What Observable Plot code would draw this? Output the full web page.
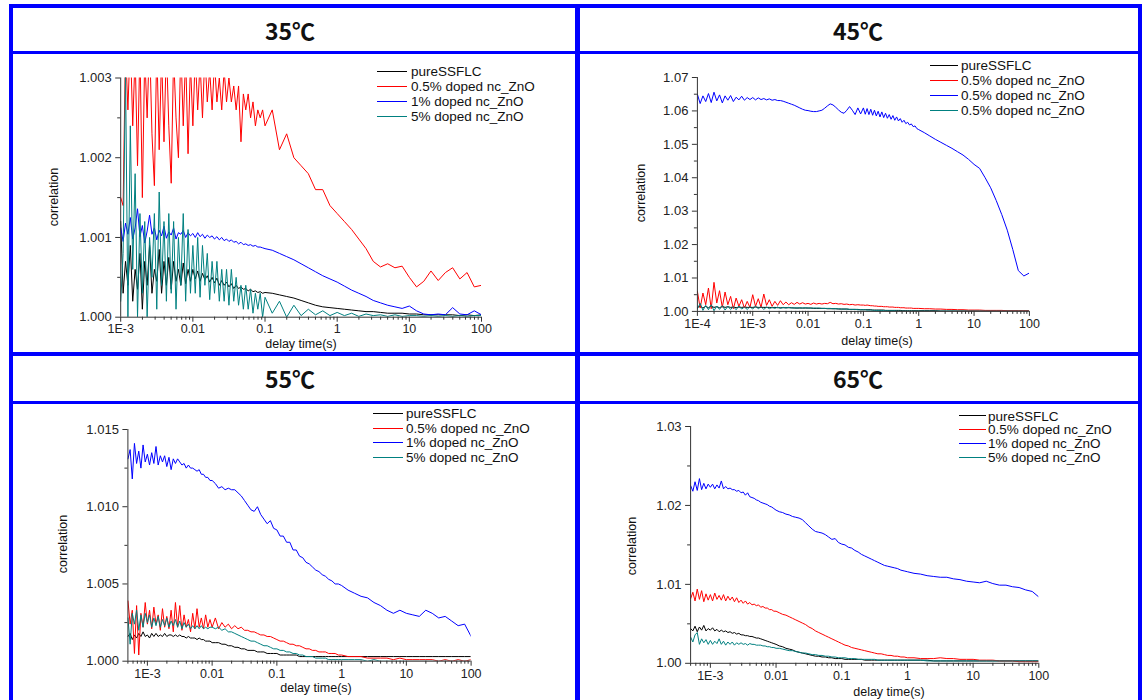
<!DOCTYPE html>
<html><head><meta charset="utf-8">
<script src="https://cdn.jsdelivr.net/npm/d3@7"></script>
<script src="https://cdn.jsdelivr.net/npm/@observablehq/plot@0.6"></script>
<style>
body{margin:0;background:#fff;}
#fig{position:relative;width:1142px;height:700px;overflow:hidden;background:#fff;font-family:"Liberation Sans",Arial,sans-serif;}
.bl{position:absolute;background:#0000ff;}
.title{position:absolute;font:bold 23px "Noto Sans CJK SC","DejaVu Sans",sans-serif;color:#111;transform:translate(-50%,-50%);white-space:nowrap;}
.plot{position:absolute;}
.legend{position:absolute;font-size:13.5px;color:#111;}
.legend .row{display:flex;align-items:center;white-space:nowrap;}
.legend .sw{display:inline-block;height:0;border-top:1.2px solid;}
.xl,.yl{position:absolute;font-size:12.5px;color:#111;white-space:nowrap;line-height:13px;}
.xl{transform:translate(-50%,-50%);}
.yl{transform:translate(-50%,-50%) rotate(-90deg);}
</style></head><body><div id="fig"></div>
<script>
// ---------------- DATA ----------------
const seriesNames = ["pureSSFLC", "0.5% doped nc_ZnO", "1% doped nc_ZnO", "5% doped nc_ZnO"];
const titles = ["35\u2103", "45\u2103", "55\u2103", "65\u2103"];
const legend35 = ["pureSSFLC", "0.5% doped nc_ZnO", "1% doped nc_ZnO", "5% doped nc_ZnO"];
const legend45 = ["pureSSFLC", "0.5% doped nc_ZnO", "0.5% doped nc_ZnO", "0.5% doped nc_ZnO"];
const legend55 = ["pureSSFLC", "0.5% doped nc_ZnO", "1% doped nc_ZnO", "5% doped nc_ZnO"];
const legend65 = ["pureSSFLC", "0.5% doped nc_ZnO", "1% doped nc_ZnO", "5% doped nc_ZnO"];
const xAxisTitle = "delay time(s)";
const yAxisTitle = "correlation";

const xTicksA = [1e-3, 1e-2, 1e-1, 1, 10, 100];
const xLabelsA = ["1E-3", "0.01", "0.1", "1", "10", "100"];
const xTicks45 = [1e-4, 1e-3, 1e-2, 1e-1, 1, 10, 100];
const xLabels45 = ["1E-4", "1E-3", "0.01", "0.1", "1", "10", "100"];

const yTicks35 = [1.000, 1.001, 1.002, 1.003];
const yLabels35 = ["1.000", "1.001", "1.002", "1.003"];
const yMinor35 = [1.0005, 1.0015, 1.0025];
const yTicks45 = [1.00, 1.01, 1.02, 1.03, 1.04, 1.05, 1.06, 1.07];
const yLabels45 = ["1.00", "1.01", "1.02", "1.03", "1.04", "1.05", "1.06", "1.07"];
const yMinor45 = [1.005, 1.015, 1.025, 1.035, 1.045, 1.055, 1.065];
const yTicks55 = [1.000, 1.005, 1.010, 1.015];
const yLabels55 = ["1.000", "1.005", "1.010", "1.015"];
const yMinor55 = [1.0025, 1.0075, 1.0125];
const yTicks65 = [1.00, 1.01, 1.02, 1.03];
const yLabels65 = ["1.00", "1.01", "1.02", "1.03"];
const yMinor65 = [1.005, 1.015, 1.025];

// delay times (s)
const t35 = [
1.000e-3,1.080e-3,1.166e-3,1.259e-3,1.359e-3,1.468e-3,1.585e-3,1.711e-3,1.848e-3,1.995e-3,
2.154e-3,2.326e-3,2.512e-3,2.712e-3,2.929e-3,3.162e-3,3.415e-3,3.687e-3,3.981e-3,4.299e-3,
4.642e-3,5.012e-3,5.412e-3,5.843e-3,6.310e-3,6.813e-3,7.356e-3,7.943e-3,8.577e-3,9.261e-3,
1.000e-2,1.080e-2,1.166e-2,1.259e-2,1.359e-2,1.468e-2,1.585e-2,1.711e-2,1.848e-2,1.995e-2,
2.154e-2,2.326e-2,2.512e-2,2.712e-2,2.929e-2,3.162e-2,3.415e-2,3.687e-2,3.981e-2,4.299e-2,
4.642e-2,5.012e-2,5.412e-2,5.843e-2,6.310e-2,6.813e-2,7.356e-2,7.943e-2,8.577e-2,9.261e-2,
0.1000,0.1259,0.1585,0.1995,0.2512,0.3162,0.3981,0.5012,0.6310,0.7943,
1.000,1.259,1.585,1.995,2.512,3.162,3.981,5.012,6.310,7.943,
10.00,12.59,15.85,19.95,25.12,31.62,39.81,50.12,63.10,79.43,
100];
const pure35 = [
1.0012,1.0003,1.0007,1.0004,1.0009,1.0002,1.0006,1.00035,1.0008,1.0001,
1.0007,1.0004,1.0009,1.0003,1.0006,1.00045,1.00085,1.0003,1.0007,1.0004,
1.00075,1.00035,1.0007,1.00045,1.0006,1.0004,1.00068,1.00042,1.0006,1.00045,
1.0006,1.00048,1.00058,1.00045,1.00055,1.00047,1.00052,1.00044,1.0005,1.00043,
1.00049,1.0004,1.00046,1.0004,1.00044,1.00038,1.00042,1.00036,1.0004,1.00036,
1.00038,1.00035,1.00036,1.00033,1.00035,1.00032,1.00033,1.00031,1.00032,1.0003,
1.00031,1.0003,1.00028,1.00026,1.00024,1.00021,1.00018,1.00015,1.00013,1.00012,
1.00011,1.0001,1.00009,1.00008,1.00007,1.00007,1.00006,1.00005,1.00005,1.00005,
1.00004,1.00004,1.00003,1.00003,1.00003,1.00003,1.00003,1.00002,1.00003,1.00002,
1.00003];
const half35 = [
1.0015,1.0014,1.0034,1.0026,1.0035,1.0024,1.0033,1.0019,1.0034,1.0015,
1.0033,1.0025,1.0035,1.0023,1.00165,1.0034,1.0021,1.0033,1.0022,1.0034,
1.0024,1.00168,1.0033,1.0025,1.0020,1.0034,1.0024,1.0033,1.00205,1.0032,
1.0024,1.0033,1.0026,1.0032,1.0025,1.0033,1.0027,1.0031,1.0026,1.0032,
1.0027,1.0030,1.0026,1.0031,1.0027,1.0030,1.0027,1.0029,1.0026,1.0029,
1.0022,1.0028,1.0026,1.0028,1.0025,1.0027,1.0024,1.0026,1.0025,1.0026,
1.0024,1.0026,1.0021,1.0023,1.0020,1.0019,1.0018,1.0016,1.0016,1.0014,
1.0013,1.0012,1.0011,1.00098,1.00086,1.0007,1.00063,1.00067,1.00062,1.00064,
1.0005,1.00038,1.00045,1.00058,1.00046,1.00056,1.00062,1.00048,1.00056,1.00038,
1.0004];
const one35 = [
1.00112,1.00095,1.00118,1.00104,1.00125,1.00098,1.00112,1.00136,1.00101,1.00115,
1.00093,1.00108,1.00128,1.00104,1.00112,1.00097,1.00109,1.00102,1.00114,1.00099,
1.00107,1.00103,1.00112,1.00098,1.00106,1.00104,1.00109,1.00100,1.00106,1.00102,
1.00105,1.00100,1.00106,1.00101,1.00104,1.00099,1.00103,1.00100,1.00102,1.00098,
1.00101,1.00097,1.00100,1.00096,1.00098,1.00095,1.00097,1.00094,1.00095,1.00092,
1.00094,1.00091,1.00092,1.00090,1.00091,1.00089,1.00090,1.00088,1.00088,1.00087,
1.00086,1.00084,1.00080,1.00076,1.00072,1.00067,1.00062,1.00057,1.00052,1.00048,
1.00044,1.00039,1.00034,1.00030,1.00026,1.00021,1.00018,1.00015,1.00013,1.00011,
1.00014,1.00008,1.00004,1.00003,1.00004,1.00003,1.00012,1.00004,1.00003,1.00008,
1.00003];
const five35 = [
1.0002,1.0008,1.0031,1.0000,1.0024,1.0006,1.0018,1.0000,1.0013,1.0003,
1.0012,1.0000,1.0010,1.0005,1.0013,1.0001,1.00157,1.0004,1.0012,1.0002,
1.0013,1.0003,1.0012,1.0001,1.0010,1.0004,1.0013,1.0002,1.0011,1.0003,
1.0009,1.0003,1.0010,1.00025,1.0009,1.0004,1.0008,1.00022,1.0007,1.0003,
1.0007,1.0002,1.0006,1.0002,1.0006,1.00015,1.0006,1.0002,1.0005,1.00015,
1.0004,1.0001,1.0004,1.0001,1.00035,1.00005,1.0003,1.0001,1.0003,1.0000,
1.00025,1.00005,1.0002,1.0000,1.00015,1.00002,1.0001,1.00003,1.00008,1.00002,
1.00006,1.00002,1.00005,1.00001,1.00004,1.00002,1.00003,1.00001,1.00003,1.00001,
1.00002,1.00002,1.00001,1.00002,1.00001,1.00002,1.00001,1.00002,1.00001,1.00002,
1.00002];

const t45 = [
1.000e-4,1.122e-4,1.259e-4,1.413e-4,1.585e-4,1.778e-4,1.995e-4,2.239e-4,2.512e-4,2.818e-4,
3.162e-4,3.548e-4,3.981e-4,4.467e-4,5.012e-4,5.623e-4,6.310e-4,7.079e-4,7.943e-4,8.913e-4,
1.000e-3,1.122e-3,1.259e-3,1.413e-3,1.585e-3,1.778e-3,1.995e-3,2.239e-3,2.512e-3,2.818e-3,
3.162e-3,3.548e-3,3.981e-3,4.467e-3,5.012e-3,5.623e-3,6.310e-3,7.079e-3,7.943e-3,8.913e-3,
1.000e-2,1.122e-2,1.259e-2,1.413e-2,1.585e-2,1.778e-2,1.995e-2,2.239e-2,2.512e-2,2.818e-2,
3.162e-2,3.548e-2,3.981e-2,4.467e-2,5.012e-2,5.623e-2,6.310e-2,7.079e-2,7.943e-2,8.913e-2,
0.1000,0.1080,0.1166,0.1259,0.1359,0.1468,0.1585,0.1711,0.1848,0.1995,
0.2154,0.2326,0.2512,0.2712,0.2929,0.3162,0.3415,0.3687,0.3981,0.4299,
0.4642,0.5012,0.5412,0.5843,0.6310,0.6813,0.7356,0.7943,0.8577,0.9261,
1.000,1.259,1.585,1.995,2.512,3.162,3.981,5.012,6.310,7.943,
10.00,12.59,15.85,19.95,25.12,31.62,39.81,50.12,63.10,79.43,
100];
const pure45 = [
1.0012,1.0016,1.0010,1.0015,1.0011,1.0016,1.0012,1.0014,1.0011,1.0015,
1.0012,1.0014,1.0012,1.0013,1.0011,1.0013,1.0012,1.0013,1.0012,1.0012,
1.0012,1.0013,1.0012,1.0012,1.0012,1.0012,1.0012,1.0011,1.0012,1.0011,
1.0011,1.0011,1.0011,1.0011,1.0011,1.0010,1.0010,1.0010,1.0010,1.0010,
1.0010,1.0010,1.0009,1.0009,1.0009,1.0009,1.0009,1.0008,1.0008,1.0008,
1.0008,1.0007,1.0007,1.0007,1.0007,1.0006,1.0006,1.0006,1.0006,1.0005,
1.0005,1.0005,1.0005,1.0005,1.0005,1.0004,1.0004,1.0004,1.0004,1.0004,
1.0004,1.0004,1.0003,1.0003,1.0003,1.0003,1.0003,1.0003,1.0003,1.0003,
1.0003,1.0002,1.0002,1.0002,1.0002,1.0002,1.0002,1.0002,1.0002,1.0002,
1.0002,1.0002,1.0002,1.0002,1.0001,1.0001,1.0001,1.0001,1.0001,1.0001,
1.0001,1.0001,1.0001,1.0001,1.0001,1.0001,1.0001,1.0001,1.0001,1.0001,
1.0001];
const half45 = [
1.0060,1.0010,1.0055,1.0020,1.0070,1.0008,1.0087,1.0025,1.0062,1.0012,
1.0058,1.0020,1.0045,1.0008,1.0040,1.0015,1.0035,1.0010,1.0030,1.0012,
1.0050,1.0015,1.0038,1.0012,1.0052,1.0018,1.0035,1.0015,1.0030,1.0018,
1.0032,1.0020,1.0028,1.0020,1.0026,1.0021,1.0027,1.0022,1.0026,1.0022,
1.0024,1.0021,1.0025,1.0022,1.0024,1.0022,1.0024,1.0023,1.0027,1.0023,
1.0024,1.0022,1.0023,1.0021,1.0022,1.0020,1.0021,1.0019,1.0020,1.0019,
1.0019,1.0018,1.0019,1.0018,1.0017,1.0017,1.0016,1.0016,1.0015,1.0015,
1.0015,1.0014,1.0014,1.0014,1.0013,1.0013,1.0013,1.0012,1.0012,1.0012,
1.0011,1.0011,1.0011,1.0010,1.0010,1.0010,1.0010,1.0009,1.0009,1.0009,
1.0009,1.0008,1.0008,1.0007,1.0007,1.0006,1.0006,1.0005,1.0005,1.0004,
1.0004,1.0004,1.0003,1.0003,1.0003,1.0003,1.0002,1.0002,1.0002,1.0002,
1.0002];
const one45 = [
1.0650,1.0622,1.0645,1.0628,1.0652,1.0625,1.0656,1.0630,1.0648,1.0624,
1.0645,1.0632,1.0646,1.0628,1.0641,1.0633,1.0644,1.0632,1.0640,1.0634,
1.0640,1.0633,1.0639,1.0634,1.0637,1.0633,1.0636,1.0632,1.0634,1.0631,
1.0631,1.0629,1.0626,1.0623,1.0620,1.0617,1.0613,1.0609,1.0605,1.0602,
1.0601,1.0599,1.0598,1.0598,1.0600,1.0602,1.0608,1.0615,1.0621,1.0618,
1.0611,1.0603,1.0596,1.0593,1.0602,1.0613,1.0602,1.0589,1.0609,1.0591,
1.0609,1.0590,1.0607,1.0589,1.0605,1.0587,1.0602,1.0585,1.0599,1.0582,
1.0597,1.0580,1.0593,1.0578,1.0589,1.0575,1.0586,1.0572,1.0582,1.0570,
1.0577,1.0566,1.0572,1.0562,1.0566,1.0558,1.0561,1.0553,1.0555,1.0547,
1.0544,1.0535,1.0525,1.0515,1.0506,1.0497,1.0488,1.0478,1.0468,1.0455,
1.0440,1.0428,1.0400,1.0370,1.0332,1.0290,1.0243,1.0185,1.0122,1.0106,
1.0115];
const five45 = [
1.0008,1.0024,1.0003,1.0018,1.0005,1.0020,1.0002,1.0016,1.0006,1.0017,
1.0004,1.0015,1.0006,1.0014,1.0005,1.0016,1.0007,1.0013,1.0006,1.0014,
1.0007,1.0016,1.0008,1.0014,1.0006,1.0013,1.0008,1.0012,1.0009,1.0013,
1.0009,1.0012,1.0010,1.0012,1.0010,1.0011,1.0010,1.0011,1.0010,1.0011,
1.0010,1.0010,1.0010,1.0010,1.0010,1.0009,1.0009,1.0009,1.0009,1.0008,
1.0008,1.0008,1.0007,1.0007,1.0007,1.0006,1.0006,1.0006,1.0005,1.0005,
1.0005,1.0005,1.0004,1.0004,1.0004,1.0004,1.0003,1.0003,1.0003,1.0003,
1.0003,1.0002,1.0002,1.0002,1.0002,1.0002,1.0002,1.0002,1.0001,1.0001,
1.0001,1.0001,1.0001,1.0001,1.0001,1.0001,1.0001,1.0001,1.0001,1.0001,
1.0001,1.0001,1.0001,1.0001,1.0001,1.0001,1.0001,1.0001,1.0001,1.0001,
1.0001,1.0001,1.0001,1.0001,1.0001,1.0001,1.0001,1.0001,1.0001,1.0001,
1.0001];

// delay times shared by the 55 and 65 panels
const tHot = [
5.012e-4,5.412e-4,5.843e-4,6.310e-4,6.813e-4,7.356e-4,7.943e-4,8.577e-4,9.261e-4,
1.000e-3,1.080e-3,1.166e-3,1.259e-3,1.359e-3,1.468e-3,1.585e-3,1.711e-3,1.848e-3,1.995e-3,
2.154e-3,2.326e-3,2.512e-3,2.712e-3,2.929e-3,3.162e-3,3.415e-3,3.687e-3,3.981e-3,4.299e-3,
4.642e-3,5.012e-3,5.412e-3,5.843e-3,6.310e-3,6.813e-3,7.356e-3,7.943e-3,8.577e-3,9.261e-3,
1.000e-2,1.122e-2,1.259e-2,1.413e-2,1.585e-2,1.778e-2,1.995e-2,2.239e-2,2.512e-2,2.818e-2,
3.162e-2,3.548e-2,3.981e-2,4.467e-2,5.012e-2,5.623e-2,6.310e-2,7.079e-2,7.943e-2,8.913e-2,
0.1000,0.1122,0.1259,0.1413,0.1585,0.1778,0.1995,0.2239,0.2512,0.2818,
0.3162,0.3548,0.3981,0.4467,0.5012,0.5623,0.6310,0.7079,0.7943,0.8913,
1.000,1.259,1.585,1.995,2.512,3.162,3.981,5.012,6.310,7.943,
10.00,12.59,15.85,19.95,25.12,31.62,39.81,50.12,63.10,79.43,
100];
const pure55 = [
1.0016,1.0018,1.0014,1.0017,1.0015,1.0018,1.0016,1.0019,1.0016,
1.0017,1.0015,1.0018,1.0016,1.0018,1.0016,1.0017,1.0016,1.0018,1.0016,
1.0017,1.0017,1.0016,1.0017,1.0016,1.0017,1.0016,1.0016,1.0015,1.0016,
1.0015,1.0015,1.0015,1.0014,1.0015,1.0014,1.0014,1.0013,1.0013,1.0013,
1.0012,1.0012,1.0012,1.0011,1.0011,1.0010,1.0010,1.0009,1.0009,1.0008,
1.0008,1.0007,1.0007,1.0007,1.0006,1.0006,1.0006,1.0005,1.0005,1.0005,
1.0005,1.0004,1.0004,1.0004,1.0004,1.0004,1.0004,1.0003,1.0003,1.0003,
1.0003,1.0003,1.0003,1.0003,1.0003,1.0003,1.0003,1.0003,1.0003,1.0003,
1.0003,1.0003,1.0003,1.0003,1.0003,1.0003,1.0003,1.0003,1.0003,1.0003,
1.0003,1.0003,1.0003,1.0003,1.0003,1.0003,1.0003,1.0003,1.0003,1.0003,
1.0003];
const half55 = [
1.0039,1.0024,1.0033,1.0005,1.0036,1.0004,1.0031,1.0022,1.0038,
1.0024,1.0033,1.0021,1.0035,1.0024,1.0030,1.0020,1.0034,1.0022,1.0029,
1.0021,1.0033,1.0019,1.0038,1.0022,1.0036,1.0020,1.0030,1.0022,1.0027,
1.0019,1.0031,1.0021,1.0034,1.0022,1.0028,1.0021,1.0030,1.0022,1.0027,
1.0022,1.0028,1.0021,1.0025,1.0022,1.0024,1.0021,1.0023,1.0021,1.0022,
1.0020,1.0020,1.0019,1.0019,1.0018,1.0017,1.0017,1.0016,1.0016,1.0015,
1.0014,1.0013,1.0013,1.0012,1.0011,1.0011,1.0010,1.0010,1.0009,1.0008,
1.0008,1.0007,1.0007,1.0006,1.0006,1.0006,1.0005,1.0005,1.0005,1.0004,
1.0004,1.0003,1.0003,1.0003,1.0002,1.0002,1.0002,1.0002,1.0001,1.0002,
1.0001,1.0001,1.0001,1.0001,1.0001,1.0000,1.0001,1.0000,1.0001,1.0000,
1.0001];
const one55 = [
1.0131,1.0137,1.0118,1.0141,1.0128,1.0136,1.0125,1.0140,1.0129,
1.0134,1.0127,1.0135,1.0128,1.0139,1.0127,1.0133,1.0129,1.0133,1.0126,
1.0132,1.0124,1.0131,1.0128,1.0131,1.0129,1.0127,1.0128,1.0125,1.0127,
1.0125,1.0125,1.0124,1.0123,1.0124,1.0121,1.0121,1.0119,1.0119,1.0117,
1.0117,1.0115,1.0112,1.0113,1.0111,1.0112,1.0111,1.0111,1.0109,1.0107,
1.0104,1.0101,1.0098,1.0097,1.0100,1.0095,1.0092,1.0089,1.0091,1.0086,
1.0085,1.0081,1.0081,1.0077,1.0077,1.0072,1.0072,1.0068,1.0067,1.0064,
1.0063,1.0061,1.0059,1.0058,1.0056,1.0055,1.0053,1.0052,1.0050,1.0050,
1.0049,1.0046,1.0044,1.0042,1.0041,1.0038,1.0036,1.0033,1.0031,1.0033,
1.0031,1.0030,1.0029,1.0033,1.0031,1.0028,1.0029,1.0026,1.0023,1.0024,
1.0016];
const five55 = [
1.0028,1.0011,1.0031,1.0024,1.0033,1.0020,1.0030,1.0022,1.0031,
1.0025,1.0030,1.0022,1.0028,1.0023,1.0029,1.0022,1.0027,1.0023,1.0028,
1.0022,1.0026,1.0023,1.0027,1.0022,1.0026,1.0021,1.0025,1.0022,1.0024,
1.0021,1.0023,1.0021,1.0023,1.0021,1.0023,1.0021,1.0022,1.0021,1.0022,
1.0022,1.0021,1.0022,1.0020,1.0021,1.0019,1.0019,1.0018,1.0017,1.0016,
1.0015,1.0014,1.0013,1.0013,1.0012,1.0011,1.0010,1.0010,1.0009,1.0008,
1.0008,1.0007,1.0007,1.0006,1.0006,1.0005,1.0005,1.0004,1.0004,1.0003,
1.0003,1.0003,1.0002,1.0002,1.0002,1.0002,1.0001,1.0001,1.0001,1.0001,
1.0001,1.0001,1.0001,1.0001,1.0000,1.0001,1.0000,1.0000,1.0000,1.0000,
1.0000,1.0000,1.0000,1.0000,1.0000,1.0000,1.0000,1.0000,1.0000,1.0000,
1.0000];

const pure65 = [
1.0044,1.0041,1.0047,1.0040,1.0046,1.0042,1.0048,1.0041,1.0044,
1.0042,1.0045,1.0041,1.0043,1.0040,1.0042,1.0040,1.0041,1.0039,1.0040,
1.0038,1.0039,1.0037,1.0038,1.0036,1.0036,1.0035,1.0035,1.0034,1.0034,
1.0033,1.0032,1.0032,1.0031,1.0030,1.0029,1.0028,1.0027,1.0026,1.0025,
1.0024,1.0022,1.0021,1.0019,1.0018,1.0017,1.0015,1.0014,1.0013,1.0012,
1.0011,1.0010,1.0009,1.0009,1.0008,1.0008,1.0007,1.0007,1.0006,1.0006,
1.0006,1.0005,1.0005,1.0005,1.0005,1.0005,1.0005,1.0004,1.0004,1.0004,
1.0004,1.0004,1.0004,1.0004,1.0004,1.0004,1.0004,1.0004,1.0004,1.0004,
1.0004,1.0004,1.0004,1.0004,1.0003,1.0003,1.0003,1.0003,1.0003,1.0003,
1.0003,1.0003,1.0003,1.0003,1.0003,1.0003,1.0003,1.0003,1.0003,1.0003,
1.0003];
const half65 = [
1.0082,1.0090,1.0079,1.0094,1.0081,1.0092,1.0078,1.0088,1.0080,
1.0087,1.0079,1.0089,1.0081,1.0086,1.0080,1.0087,1.0079,1.0085,1.0080,
1.0084,1.0078,1.0083,1.0077,1.0080,1.0076,1.0079,1.0075,1.0077,1.0074,
1.0075,1.0073,1.0074,1.0071,1.0072,1.0070,1.0070,1.0068,1.0068,1.0066,
1.0066,1.0064,1.0062,1.0061,1.0059,1.0057,1.0055,1.0053,1.0051,1.0049,
1.0046,1.0044,1.0041,1.0039,1.0037,1.0035,1.0033,1.0031,1.0029,1.0027,
1.0025,1.0023,1.0022,1.0020,1.0019,1.0018,1.0017,1.0016,1.0015,1.0014,
1.0013,1.0012,1.0012,1.0011,1.0010,1.0010,1.0009,1.0009,1.0008,1.0008,
1.0007,1.0007,1.0006,1.0006,1.0006,1.0007,1.0006,1.0006,1.0005,1.0005,
1.0005,1.0004,1.0004,1.0004,1.0003,1.0003,1.0003,1.0002,1.0002,1.0002,
1.0002];
const one65 = [
1.0225,1.0218,1.0230,1.0219,1.0234,1.0220,1.0228,1.0221,1.0227,
1.0223,1.0227,1.0221,1.0226,1.0222,1.0231,1.0221,1.0224,1.0221,1.0222,
1.0220,1.0220,1.0218,1.0219,1.0216,1.0217,1.0213,1.0216,1.0211,1.0210,
1.0209,1.0207,1.0206,1.0204,1.0203,1.0202,1.0201,1.0199,1.0198,1.0196,
1.0194,1.0192,1.0191,1.0189,1.0188,1.0186,1.0185,1.0184,1.0182,1.0178,
1.0174,1.0170,1.0167,1.0166,1.0165,1.0163,1.0160,1.0157,1.0158,1.0153,
1.0151,1.0150,1.0147,1.0146,1.0143,1.0141,1.0138,1.0136,1.0134,1.0132,
1.0130,1.0128,1.0126,1.0124,1.0123,1.0122,1.0121,1.0120,1.0118,1.0117,
1.0116,1.0114,1.0113,1.0111,1.0110,1.0109,1.0109,1.0107,1.0106,1.0104,
1.0103,1.0102,1.0104,1.0101,1.0099,1.0099,1.0097,1.0096,1.0093,1.0091,
1.0084];
const five65 = [
1.0033,1.0027,1.0036,1.0039,1.0024,1.0031,1.0026,1.0030,1.0024,
1.0029,1.0024,1.0028,1.0025,1.0031,1.0024,1.0028,1.0023,1.0027,1.0024,
1.0027,1.0023,1.0026,1.0024,1.0026,1.0024,1.0025,1.0023,1.0025,1.0024,
1.0024,1.0023,1.0023,1.0023,1.0022,1.0022,1.0021,1.0021,1.0020,1.0020,
1.0019,1.0019,1.0018,1.0017,1.0016,1.0016,1.0015,1.0014,1.0013,1.0013,
1.0012,1.0011,1.0011,1.0010,1.0010,1.0009,1.0009,1.0008,1.0008,1.0007,
1.0007,1.0007,1.0006,1.0006,1.0006,1.0005,1.0005,1.0005,1.0005,1.0005,
1.0005,1.0004,1.0004,1.0004,1.0004,1.0004,1.0004,1.0004,1.0004,1.0004,
1.0004,1.0004,1.0004,1.0003,1.0003,1.0003,1.0003,1.0003,1.0003,1.0003,
1.0003,1.0003,1.0003,1.0003,1.0003,1.0003,1.0003,1.0003,1.0003,1.0003,
1.0003];

// ---------------- STYLE / LAYOUT ----------------
const seriesColors = ["#000000", "#ff0000", "#0000ff", "#008080"];
const panels = [
  {title: titles[0], t: t35, ys: [pure35, half35, one35, five35], legend: legend35,
   xDomain: [1e-3, 100], yDomain: [1.000, 1.003],
   xTicks: xTicksA, xLabels: xLabelsA, yTicks: yTicks35, yLabels: yLabels35, yMinor: yMinor35,
   box: {left: 13, top: 54, width: 562, height: 298}, m: {l: 107.2, r: 94, t: 23.5, b: 35.3},
   titlePos: [290, 30], leg: {sw: [377, 30], tx: 411, top: 64, dy: 15},
   xlab: [301, 344], ylab: [54, 197], pad: 2},
  {title: titles[1], t: t45, ys: [pure45, half45, one45, five45], legend: legend45,
   xDomain: [1e-4, 100], yDomain: [1.00, 1.07],
   xTicks: xTicks45, xLabels: xLabels45, yTicks: yTicks45, yLabels: yLabels45, yMinor: yMinor45,
   box: {left: 580, top: 54, width: 558, height: 298}, m: {l: 116.9, r: 109.1, t: 23, b: 41.1},
   titlePos: [858, 30], leg: {sw: [929.5, 28], tx: 961, top: 58.3, dy: 14.8},
   xlab: [877, 341], ylab: [641, 193], pad: 3},
  {title: titles[2], t: tHot, ys: [pure55, half55, one55, five55], legend: legend55,
   xDomain: [5e-4, 100], yDomain: [1.000, 1.015],
   xTicks: xTicksA, xLabels: xLabelsA, yTicks: yTicks55, yLabels: yLabels55, yMinor: yMinor55,
   box: {left: 13, top: 403, width: 562, height: 297}, m: {l: 114.4, r: 104.4, t: 26, b: 39.3},
   titlePos: [290, 378], leg: {sw: [373, 29.5], tx: 406, top: 405.9, dy: 14.8},
   xlab: [316, 688], ylab: [63, 544], pad: 3},
  {title: titles[3], t: tHot, ys: [pure65, half65, one65, five65], legend: legend65,
   xDomain: [5e-4, 100], yDomain: [1.00, 1.03],
   xTicks: xTicksA, xLabels: xLabelsA, yTicks: yTicks65, yLabels: yLabels65, yMinor: yMinor65,
   box: {left: 580, top: 403, width: 558, height: 297}, m: {l: 110.1, r: 99.7, t: 23, b: 37.2},
   titlePos: [858, 378], leg: {sw: [958.5, 27], tx: 988, top: 409.1, dy: 13.8},
   xlab: [889, 692], ylab: [632, 546], pad: 3}
];

const fig = document.getElementById("fig");
function div(cls, css, text) {
  const d = document.createElement("div");
  d.className = cls;
  Object.assign(d.style, css);
  if (text != null) d.textContent = text;
  fig.appendChild(d);
  return d;
}

// blue frame lines
[[9,4,1133,4],[9,4,4,696],[575,4,5,696],[1138,4,4,696],[13,51,1125,2.5],[13,352,1125,4],[13,401,1125,2.5]]
  .forEach(([l,t,w,h]) => div("bl", {left: l+"px", top: t+"px", width: w+"px", height: h+"px"}));

function minorTicks(domain) {
  const out = [];
  const e0 = Math.floor(Math.log10(domain[0]) + 1e-9), e1 = Math.ceil(Math.log10(domain[1]) - 1e-9);
  for (let e = e0; e < e1; e++) for (let k = 2; k <= 9; k++) {
    const v = k * Math.pow(10, e);
    if (v >= domain[0] * 0.999 && v <= domain[1]) out.push(v);
  }
  return out;
}

panels.forEach(p => {
  p.ys.forEach((y, i) => { if (y.length !== p.t.length) throw new Error(p.title + " series " + i + " length " + y.length + " vs " + p.t.length); });
  const xFmt = new Map(p.xTicks.map((v, i) => [v, p.xLabels[i]]));
  const yFmt = new Map(p.yTicks.map((v, i) => [v, p.yLabels[i]]));
  const lines = p.ys.map((ys, si) => Plot.line(p.t.map((t, i) => ({t, v: ys[i]})),
    {x: "t", y: "v", stroke: seriesColors[si], strokeWidth: 1, clip: true}));
  const chart = Plot.plot({
    width: p.box.width, height: p.box.height,
    marginLeft: p.m.l, marginRight: p.m.r, marginTop: p.m.t, marginBottom: p.m.b,
    style: {background: "transparent", color: "#222", fontFamily: "'Liberation Sans', Arial, sans-serif", fontSize: "12.5px", overflow: "visible"},
    x: {type: "log", domain: p.xDomain, label: null},
    y: {domain: p.yDomain, label: null},
    marks: [
      Plot.axisX(minorTicks(p.xDomain), {tickSize: 3, tickFormat: () => "", label: null, stroke: "#333"}),
      Plot.axisX(p.xTicks, {tickSize: 5, tickPadding: p.pad, tickFormat: d => xFmt.get(d), label: null, stroke: "#333", fill: "#222"}),
      Plot.axisY(p.yMinor, {tickSize: 3, tickFormat: () => "", label: null, stroke: "#333"}),
      Plot.axisY(p.yTicks, {tickSize: 5, tickPadding: 4, tickFormat: d => yFmt.get(d), label: null, stroke: "#333", fill: "#222", fontSize: 13}),
      ...lines,
      Plot.ruleX([p.xDomain[0]], {stroke: "#333"}),
      Plot.ruleY([p.yDomain[0]], {stroke: "#333"})
    ]
  });
  chart.classList.add("plot");
  chart.style.left = p.box.left + "px";
  chart.style.top = p.box.top + "px";
  fig.appendChild(chart);

  div("title", {left: p.titlePos[0] + "px", top: p.titlePos[1] + "px"}, p.title);
  div("xl", {left: p.xlab[0] + "px", top: p.xlab[1] + "px"}, xAxisTitle);
  div("yl", {left: p.ylab[0] + "px", top: p.ylab[1] + "px"}, yAxisTitle);

  const leg = div("legend", {left: p.leg.sw[0] + "px", top: p.leg.top + "px"});
  p.legend.forEach((name, i) => {
    const row = document.createElement("div");
    row.className = "row";
    row.style.height = p.leg.dy + "px";
    const sw = document.createElement("span");
    sw.className = "sw";
    sw.style.width = p.leg.sw[1] + "px";
    sw.style.borderTopColor = seriesColors[i];
    sw.style.marginRight = (p.leg.tx - p.leg.sw[0] - p.leg.sw[1]) + "px";
    const tx = document.createElement("span");
    tx.textContent = name;
    row.appendChild(sw); row.appendChild(tx);
    leg.appendChild(row);
  });
});
</script></body></html>
